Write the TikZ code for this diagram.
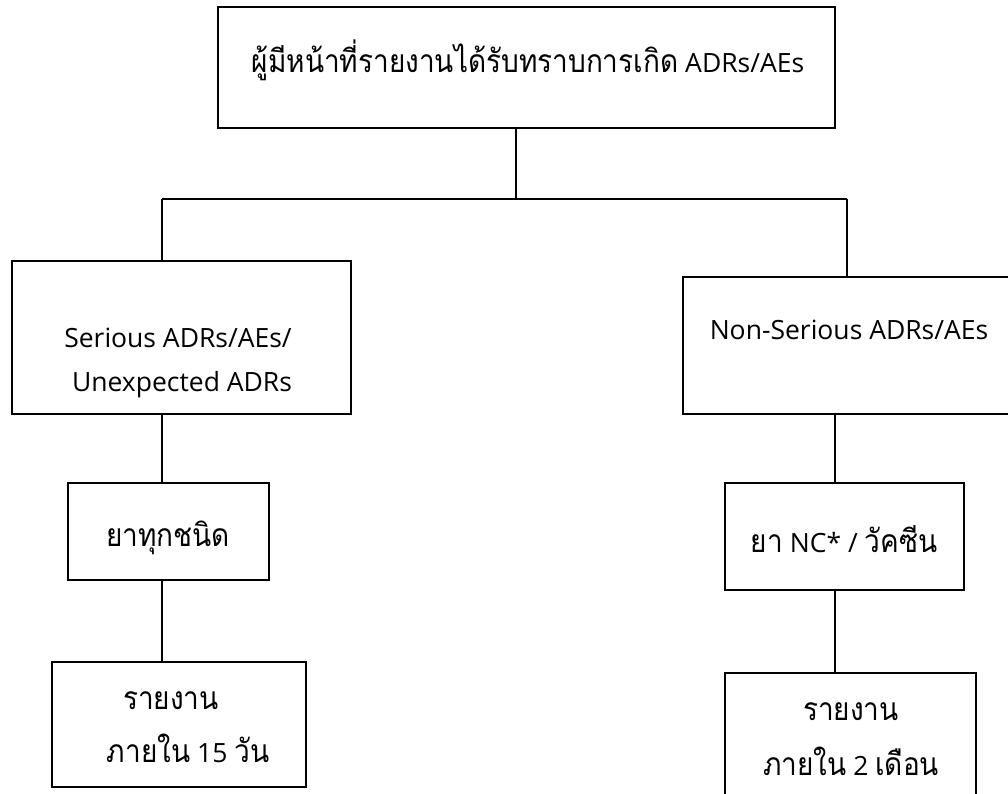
\documentclass[tikz,border=0pt]{standalone}
\usepackage{fontspec}
\setmainfont{Open Sans}
\newfontfamily\thaifont[Script=Thai,FakeStretch=0.88,Scale=1.2]{Loma}
\begin{document}
\begin{tikzpicture}[x=1pt,y=-1pt,
  box/.style={draw, line width=1.2pt, inner sep=0pt, anchor=center},
  txt/.style={inner sep=0pt, anchor=center, font=\fontsize{26.5}{30}\selectfont},
  conn/.style={line width=1.2pt}]
\useasboundingbox[fill=white] (0,0) rectangle (1008,793);
% boxes
\node[box, minimum width=617pt, minimum height=121pt] (top) at (526.5,67.5) {};
\node[box, minimum width=339pt, minimum height=153pt] (lbox) at (181.5,337.5) {};
\node[box, minimum width=340pt, minimum height=137pt] (rbox) at (853,345.5) {};
\node[box, minimum width=201pt, minimum height=97pt] (lmid) at (168.5,531.5) {};
\node[box, minimum width=239pt, minimum height=107pt] (rmid) at (844.5,536.5) {};
\node[box, minimum width=254pt, minimum height=125pt] (lbot) at (179,724.5) {};
\node[box, minimum width=251pt, minimum height=140pt] (rbot) at (850.5,743) {};
% texts
\node[txt] (ttop) at (528,60) {{\thaifont ผู้มีหน้าที่รายงานได้รับทราบการเกิด} ADRs/AEs};
\node[txt] (tl1) at (178,338) {Serious ADRs/AEs/};
\node[txt] (tl2) at (182,385) {Unexpected ADRs};
\node[txt] (tr1) at (849,330) {Non-Serious ADRs/AEs};
\node[txt] (tlm) at (168,538) {\thaifont ยาทุกชนิด};
\node[txt] (trm) at (844,539) {{\thaifont ยา} NC* / {\thaifont วัคซีน}};
\node[txt] (tlb1) at (171,701) {\thaifont รายงาน};
\node[txt] (tlb2) at (188,748) {{\thaifont ภายใน} 15 {\thaifont วัน}};
\node[txt] (trb1) at (851,712) {\thaifont รายงาน};
\node[txt] (trb2) at (851,761) {{\thaifont ภายใน} 2 {\thaifont เดือน}};
% connectors
\coordinate (j) at (516,199);
\coordinate (jl) at (162,199);
\coordinate (jr) at (847,199);
\coordinate (kr) at (835,414);
\draw[conn] (top.south -| j) -- (j);
\draw[conn] (jl) -- (jr);
\draw[conn] (jl) -- (lbox.north -| jl);
\draw[conn] (jr) -- (rbox.north -| jr);
\draw[conn] (lbox.south -| jl) -- (lmid.north -| jl);
\draw[conn] (lmid.south -| jl) -- (lbot.north -| jl);
\draw[conn] (rbox.south -| kr) -- (rmid.north -| kr);
\draw[conn] (rmid.south -| kr) -- (rbot.north -| kr);
\end{tikzpicture}
\end{document}
